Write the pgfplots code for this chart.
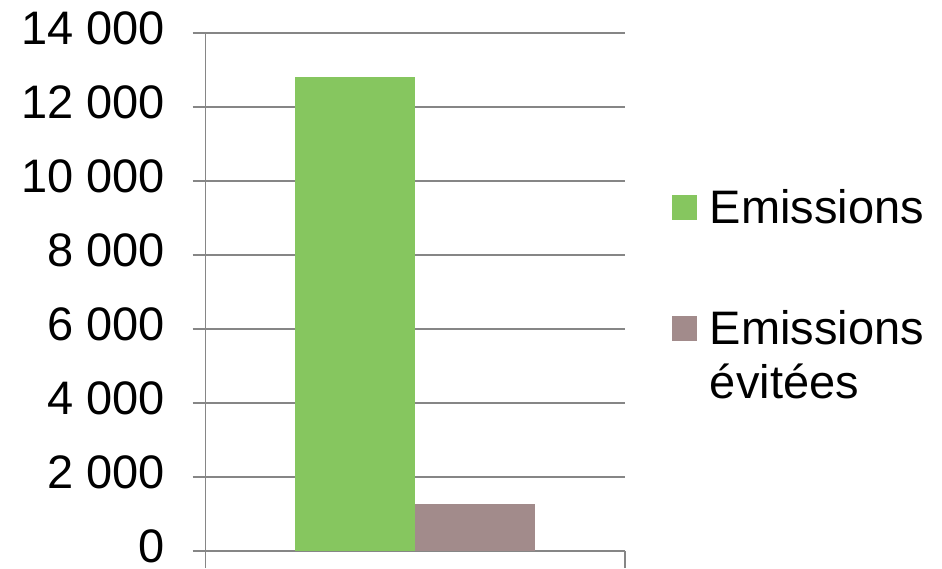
\documentclass[border=0pt]{standalone}
\usepackage{fontspec}
\setmainfont{Liberation Sans}
\usepackage{pgfplots}
\pgfplotsset{compat=1.18}
\definecolor{gr}{HTML}{86C65F}
\definecolor{br}{HTML}{A28B8B}
\definecolor{ax}{HTML}{868686}
\begin{document}
\begin{tikzpicture}[x=1pt,y=1pt]
\useasboundingbox (0,0) rectangle (942,568);
\begin{axis}[
  at={(205.5pt,17pt)}, anchor=south west,
  scale only axis, width=419.5pt, height=518pt,
  xmin=0, xmax=1, ymin=0, ymax=14000,
  ybar=0pt, bar width=120pt,
  axis x line*=bottom, axis y line*=left,
  axis line style={ax, line width=1.3pt},
  tick align=outside,
  scaled y ticks=false,
  xtick={0,1}, xticklabels={},
  ytick={0,2000,4000,6000,8000,10000,12000,14000},
  yticklabels={{0},{2 000},{4 000},{6 000},{8 000},{10 000},{12 000},{14 000}},
  xtick style={ax, line width=1.3pt, /pgfplots/major tick length=17pt},
  ytick style={ax, line width=1.3pt, /pgfplots/major tick length=13pt},
  ymajorgrids, grid style={ax, line width=1.3pt},
  yticklabel style={font=\fontsize{47}{47}\selectfont, inner sep=0pt, anchor=east, xshift=-36pt, yshift=5pt},
  legend style={draw=none, fill=none, at={(1.112,0.720)}, anchor=north west,
    inner sep=0pt, outer sep=0pt,
    font=\fontsize{47}{53}\selectfont, row sep=8pt, column sep=0pt,
    nodes={inner sep=0pt, outer sep=0pt, anchor=base west}},
  legend cell align=left,
]
\addplot[fill=gr, draw=none,
  legend image code/.code={\fill[gr, draw=none] (0pt,3pt) rectangle (25pt,28pt); \path[draw=none, fill=none] (0pt,-68pt) rectangle (0pt,45pt);}]
  coordinates {(0.5,12800)};
\addplot[fill=br, draw=none,
  legend image code/.code={\fill[br, draw=none] (0pt,3pt) rectangle (25pt,28pt); \path[draw=none, fill=none] (0pt,0pt) rectangle (0pt,45pt);}]
  coordinates {(0.5,1270)};
\addlegendimage{legend image code/.code={\path[draw=none, fill=none] (0pt,0pt) rectangle (25pt,45pt);}}
\legend{\hspace*{13pt}Emissions, \hspace*{13pt}Emissions, \hspace*{13pt}évitées}
\end{axis}
\end{tikzpicture}
\end{document}
